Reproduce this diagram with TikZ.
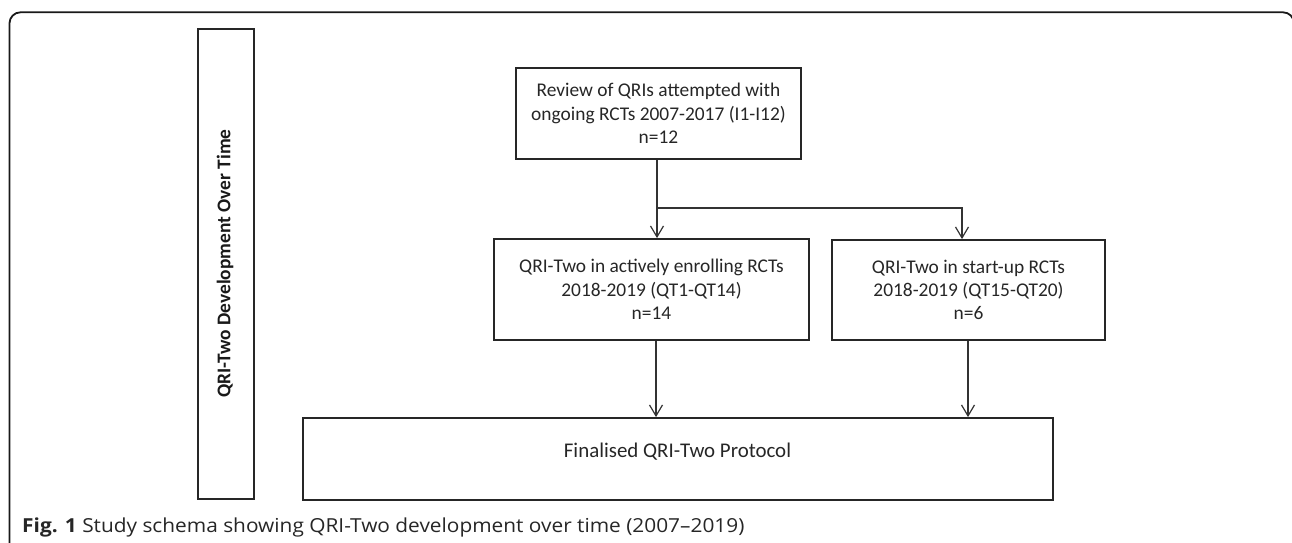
\documentclass[tikz,border=0pt]{standalone}
\usepackage{fontspec}
\setmainfont{Carlito}
\newfontfamily\capfont[FakeStretch=1.08]{Open Sans}
\usetikzlibrary{arrows.meta,calc}
\begin{document}
\begin{tikzpicture}[x=1pt,y=-1pt,
  boxstyle/.style={draw=black!85,line width=1.8pt,rectangle,align=center,inner sep=0pt,font=\fontsize{19.4}{23.3}\selectfont,text=black!85},
  conn/.style={draw=black!80,line width=1.2pt},
  arr/.style={conn,-{Straight Barb[length=11pt,width=13pt,line width=1.2pt]}}]
\useasboundingbox (0,0) rectangle (1292,542);
% outer frame
\draw[black!90,line width=1.8pt,rounded corners=11pt] (9.5,560) -- (9.5,12.3) -- (1294,12.3) -- (1294,60);
% vertical label box
\node[boxstyle,minimum width=56pt,minimum height=470pt] (vb) at (226,264) {};
\node[rotate=90,font=\bfseries\fontsize{19.4}{23}\selectfont,text=black!90,inner sep=0pt] (vt) at (225,263.5) {QRI-Two Development Over Time};
% boxes
\node[boxstyle,minimum width=285pt,minimum height=91pt] (rev) at (658.5,113.5) {Review of QRIs attempted with\\ ongoing RCTs 2007-2017 (I1-I12)\\ n=12};
\node[boxstyle,minimum width=315pt,minimum height=101pt] (act) at (651.5,289.5) {QRI-Two in actively enrolling RCTs\\ 2018-2019 (QT1-QT14)\\ n=14};
\node[boxstyle,minimum width=273pt,minimum height=100pt] (stu) at (968.5,290) {QRI-Two in start-up RCTs\\ 2018-2019 (QT15-QT20)\\ n=6};
\node[boxstyle,minimum width=750pt,minimum height=82pt] (fin) at (678,459) {};
\node[font=\fontsize{20.9}{24}\selectfont,text=black!85,inner sep=0pt] (fint) at (677.5,452) {Finalised QRI-Two Protocol};
% connectors
\coordinate (j) at (657,208);
\coordinate (jr) at (962,208);
\draw[conn] (rev.south -| j) -- (j);
\draw[arr] (j) -- (j |- act.north);
\draw[arr] (j) -- (jr) -- (jr |- stu.north);
\draw[arr] (act.south -| 656,0) -- (656,0 |- fin.north);
\draw[arr] (stu.south -| 968,0) -- (968,0 |- fin.north);
% caption
\node[anchor=base west,inner sep=0pt,font=\capfont\fontsize{19.3}{22}\selectfont,text=black!85] (cap) at (22,532) {\textbf{Fig. 1} Study schema showing QRI-Two development over time (2007–2019)};
\end{tikzpicture}
\end{document}
